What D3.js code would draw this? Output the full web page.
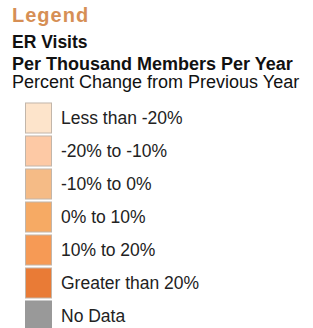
<!DOCTYPE html>
<html>
<head>
<meta charset="utf-8">
<script src="https://cdn.jsdelivr.net/npm/d3@7"></script>
<style>
  body { margin: 0; background: #fff; }
  text { font-family: "Liberation Sans", Arial, sans-serif; }
</style>
</head>
<body>
<svg></svg>
<script>
var categories = [
  "Less than -20%",
  "-20% to -10%",
  "-10% to 0%",
  "0% to 10%",
  "10% to 20%",
  "Greater than 20%",
  "No Data"
];
var colors = ["#fde4cb", "#fdc9a5", "#f5bb86", "#f6aa64", "#f69a55", "#e97b36", "#999999"];
var titleLines = ["ER Visits", "Per Thousand Members Per Year", "Percent Change from Previous Year"];

var svgWidth = 313;
var svgHeight = 328;

var svg = d3.select("svg")
  .attr("width", svgWidth)
  .attr("height", svgHeight);

svg.append("text")
  .attr("x", 12)
  .attr("y", 22)
  .attr("font-size", 20)
  .attr("font-weight", "bold")
  .attr("letter-spacing", 1)
  .attr("fill", "#d68f55")
  .text("Legend");

var lineY = [47.5, 69.5, 88];
var lineSize = [17.5, 18, 18];
svg.selectAll("text.sub")
  .data(titleLines)
  .enter()
  .append("text")
  .attr("class", "sub")
  .attr("x", 12)
  .attr("y", function(d, i) { return lineY[i]; })
  .attr("font-size", function(d, i) { return lineSize[i]; })
  .attr("font-weight", function(d, i) { return i < 2 ? "bold" : "normal"; })
  .attr("fill", "#111")
  .text(function(d) { return d; });

var yScale = d3.scaleBand()
  .domain(categories)
  .range([101.5, 101.5 + 33 * categories.length])
  .paddingInner(0.09)
  .paddingOuter(0.045);

var items = svg.selectAll("g.item")
  .data(categories)
  .enter()
  .append("g")
  .attr("class", "item");

items.append("rect")
  .attr("x", 25.5)
  .attr("y", function(d) { return yScale(d); })
  .attr("width", 26)
  .attr("height", yScale.bandwidth())
  .attr("fill", function(d, i) { return colors[i]; })
  .attr("stroke", function(d, i) { return i < 6 ? "#c2b6aa" : "#999"; })
  .attr("stroke-width", 1);

items.append("text")
  .attr("x", 61)
  .attr("y", function(d) { return yScale(d) + yScale.bandwidth() / 2; })
  .attr("dy", "0.35em")
  .attr("font-size", 17.5)
  .attr("fill", "#222")
  .text(function(d) { return d; });
</script>
</body>
</html>
